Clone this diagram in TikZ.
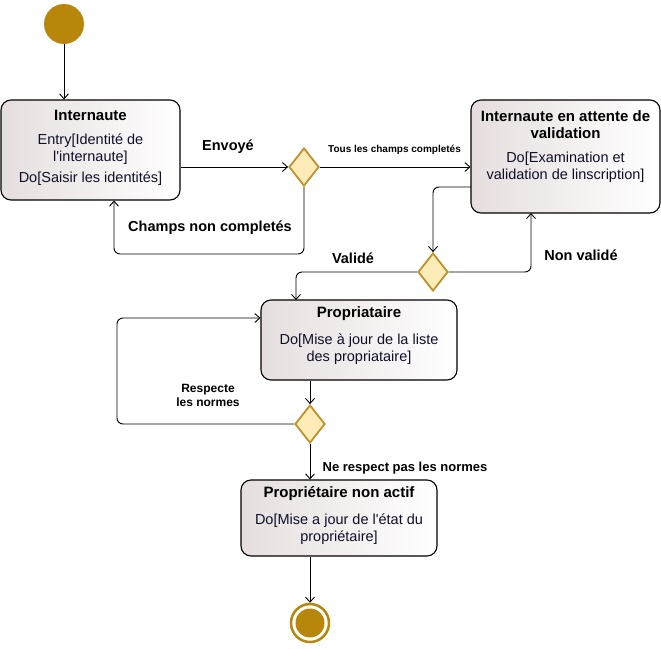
\documentclass[tikz,border=0pt]{standalone}
\usepackage{fontspec}
\setmainfont{Liberation Sans}[Ligatures=TeXOff]
\usetikzlibrary{arrows.meta,shapes.geometric}
\definecolor{gold}{RGB}{184,134,11}
\definecolor{goldline}{RGB}{190,145,45}
\definecolor{diafill}{RGB}{253,236,184}
\definecolor{boxleft}{RGB}{230,222,222}
\definecolor{encre}{RGB}{15,15,40}

\tikzset{
  etat/.style={draw, line width=1.1pt, rounded corners=10pt, inner sep=0pt, left color=boxleft, right color=white},
  choix/.style={diamond, draw=goldline, line width=1.8pt, fill=diafill, inner sep=0pt, minimum width=30pt, minimum height=38pt},
  arr/.style={-{Straight Barb[length=5pt,width=9pt]}, line width=0.9pt, rounded corners=6pt},
  titre/.style={font=\fontsize{15}{17}\selectfont\bfseries, align=center},
  corps/.style={font=\fontsize{14.5}{17}\selectfont, text=encre, align=center},
  garde/.style={font=\fontsize{14.5}{15}\selectfont\bfseries, align=center}
}

\begin{document}
\begin{tikzpicture}[x=1pt,y=-1pt]
\useasboundingbox (0,0) rectangle (661,648);

% debut et fin
\node[circle, fill=gold, minimum size=40pt, inner sep=0pt] (init) at (64,24) {};
\node[circle, draw=gold, line width=2.5pt, fill=white, minimum size=38pt, inner sep=0pt] (fin) at (310,623) {};
\fill[gold] (fin) circle (14.5);

% etats
\node[etat, minimum width=179pt, minimum height=100pt] (inter) at (90.5,150) {};
\node[titre] (intert) at (90.5,115) {Internaute};
\node[corps] (interb) at (90.5,149.5) {Entry[Identité de\\l'internaute]};
\node[corps] (interc) at (90.5,179) {Do[Saisir les identités]};

\node[etat, minimum width=189pt, minimum height=113pt] (att) at (565.5,156.5) {};
\node[titre] (attt) at (565.5,124.5) {Internaute en attente de\\validation};
\node[corps] (attb) at (565.5,167.5) {Do[Examination et\\validation de linscription]};

\node[etat, minimum width=196pt, minimum height=80pt] (prop) at (359,340) {};
\node[titre] (propt) at (359,314) {Propriataire};
\node[corps] (propb) at (359,349.5) {Do[Mise à jour de la liste\\des propriataire]};

\node[etat, minimum width=196pt, minimum height=76pt] (pna) at (339,518) {};
\node[titre] (pnat) at (339,494) {Propriétaire non actif};
\node[corps] (pnab) at (339,529.5) {Do[Mise a jour de l'état du\\propriétaire]};

% choix
\node[choix] (d1) at (304,167) {};
\node[choix] (d2) at (433,272) {};
\node[choix] (d3) at (310,424) {};

\coordinate (boucle) at (114,254);
\coordinate (attout) at (471,187);
\coordinate (nvhaut) at (531,213);
\coordinate (vbas) at (296,300);
\coordinate (rgauche) at (117,318);

% transitions
\draw[arr] (init) -- (init |- inter.north);
\draw[arr] (inter.east |- d1.west) -- (d1.west);
\draw[arr] (d1.south) |- (boucle) -- (boucle |- inter.south);
\draw[arr] (d1.east) -- (d1.east -| att.west);
\draw[arr] (attout) -| (d2.north);
\draw[arr] (d2.east) -| (nvhaut);
\draw[arr] (d2.west) -| (vbas);
\draw[arr] (prop.south -| d3.north) -- (d3.north);
\draw[arr] (d3.west) -| (rgauche) -- (rgauche -| prop.west);
\draw[arr] (d3.south) -- (d3.south |- pna.north);
\draw[arr] (pna.south -| fin) -- (fin.north);

% gardes
\node[garde] (lenv) at (228,147) {Envoyé};
\node[garde] (lcnc) at (210,228) {Champs non completés};
\node[garde, font=\fontsize{10}{11}\selectfont\bfseries] (ltous) at (394.5,150) {Tous les champs completés};
\node[garde] (lval) at (353,258) {Validé};
\node[garde] (lnval) at (581,255) {Non validé};
\node[garde, font=\fontsize{12}{14}\selectfont\bfseries] (lresp) at (208,395) {Respecte\\les normes};
\node[garde, font=\fontsize{13}{14}\selectfont\bfseries] (lnresp) at (405,468) {Ne respect pas les normes};
\end{tikzpicture}
\end{document}
